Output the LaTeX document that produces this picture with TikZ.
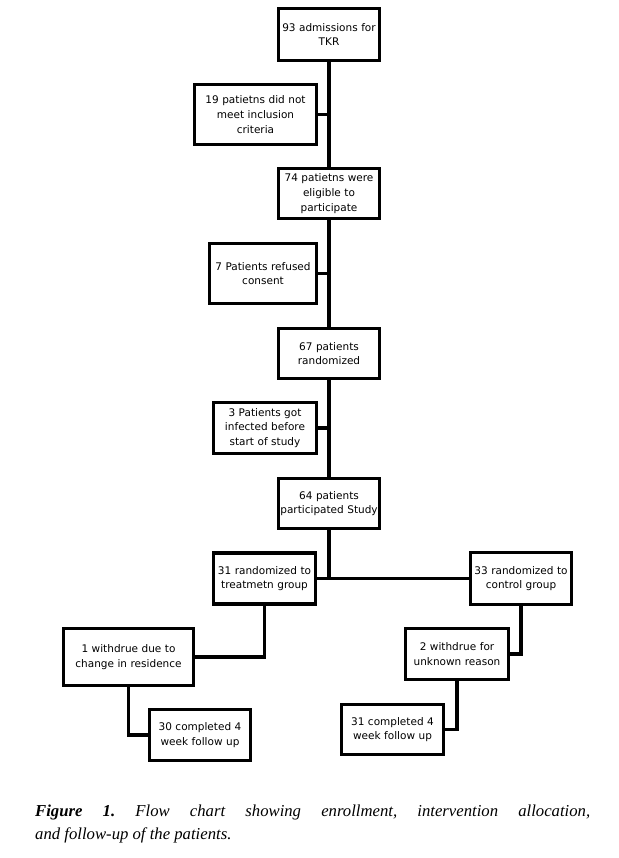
\documentclass[tikz,border=0pt]{standalone}
\usepackage{fontspec}
\setmainfont{Liberation Serif}
\newfontfamily\boxfont{DejaVu Sans}
\usepackage{tikz}

\tikzset{
    box/.style 2 args={draw, line width=3.2pt, inner sep=1pt, align=center,
        text width=#1, minimum height=#2, font=\boxfont\fontsize{10.5}{14.8}\selectfont},
    link/.style={line width=3.2pt}
}

\begin{document}
\begin{tikzpicture}[x=1pt, y=-1pt]
    \useasboundingbox (0,0) rectangle (618,858);
%
    \node[box={99pt}{52pt}] (adm) at (329,34.5) {93 admissions for\\TKR};
    \node[box={120pt}{60pt}] (excl) at (255.5,114.5) {19 patietns did not\\meet inclusion\\criteria};
    \node[box={99pt}{50pt}] (elig) at (329,193.5) {74 patietns were\\eligible to\\participate};
    \node[box={105pt}{60pt}] (refu) at (263,273.5) {7 Patients refused\\consent};
    \node[box={99pt}{50pt}] (rand) at (329,353.5) {67 patients\\randomized};
    \node[box={101pt}{51pt}] (infe) at (265,428) {3 Patients got\\infected before\\start of study};
    \node[box={99pt}{50pt}] (part) at (329,503.5) {64 patients\\participated Study};
%
    \node[box={100pt}{51pt}] (treat) at (264.5,578.5) {31 randomized to\\treatmetn group};
    \node[box={128pt}{57pt}] (wdt) at (128.5,657) {1 withdrue due to\\change in residence};
    \node[box={99pt}{51pt}] (donet) at (200,735) {30 completed 4\\week follow up};
%
    \node[box={99pt}{52pt}] (ctrl) at (521,578.5) {33 randomized to\\control group};
    \node[box={101pt}{51pt}] (wdc) at (457,654) {2 withdrue for\\unknown reason};
    \node[box={100pt}{50pt}] (donec) at (392.5,729.5) {31 completed 4\\week follow up};
%
    \coordinate (split) at (329,578.5);
    \draw[link] (adm) -- (elig) -- (rand) -- (part) -- (split);
    \draw[link] (excl.east) -- (excl.east -| adm.south);
    \draw[link] (refu.east) -- (refu.east -| adm.south);
    \draw[link] (infe.east) -- (infe.east -| adm.south);
    \draw[link] (treat.east) -- (ctrl.west);
    \draw[link] (treat.south) |- (wdt.east);
    \draw[link] (wdt.south) |- (donet.west);
    \draw[link] (ctrl.south) |- (wdc.east);
    \draw[link] (wdc.south) |- (donec.east);
%
    \node[anchor=north west, text width=555pt, align=justify, inner sep=0pt,
        font=\fontsize{16.7}{23}\selectfont\frenchspacing] (caption) at (35,805)
        {\textbf{\textit{Figure 1.}}\textit{ Flow chart showing enrollment, intervention allocation,\linebreak and follow-up of the patients.}};
\end{tikzpicture}
\end{document}
